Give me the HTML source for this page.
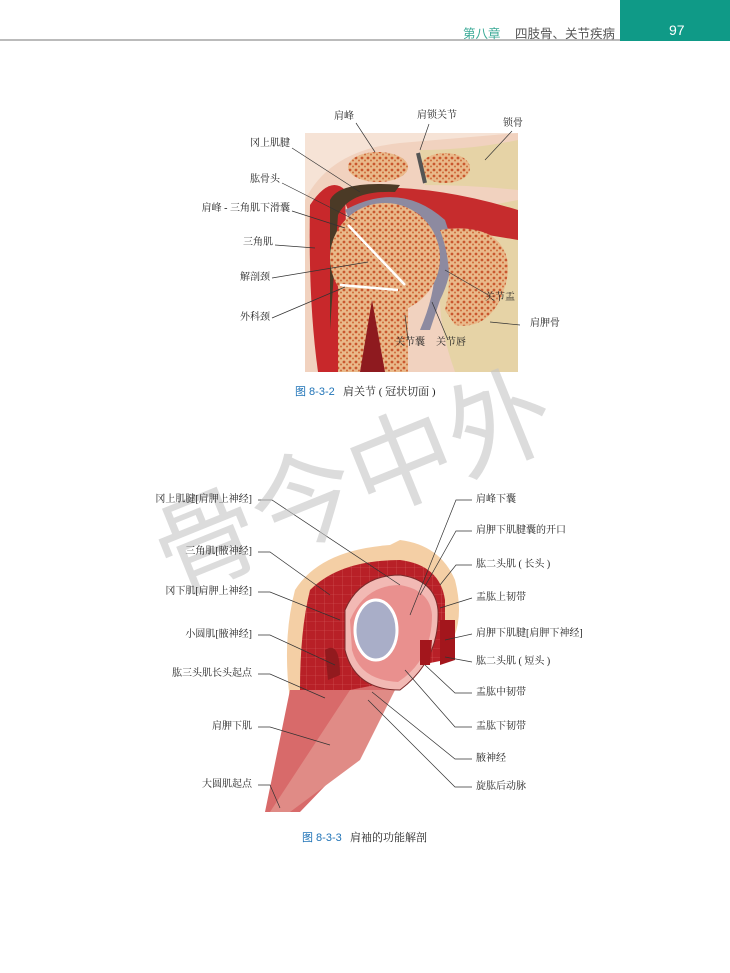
<!DOCTYPE html>
<html><head><meta charset="utf-8"><style>
body{margin:0;width:730px;height:973px;background:#fff;position:relative;overflow:hidden;font-family:"Liberation Serif","Noto Serif CJK SC",serif;}
.t{position:absolute;font-size:10px;color:#222;white-space:nowrap;line-height:12px}
.r{text-align:right}
</style></head><body>
<div style="position:absolute;left:0;top:39px;width:620px;height:2px;background:#bbb"></div>
<div style="position:absolute;left:620px;top:0;width:110px;height:41px;background:#0f9a87"></div>
<div style="position:absolute;left:669px;top:22px;color:#fff;font:14px 'Liberation Sans',sans-serif">97</div>
<div style="position:absolute;left:463px;top:23px;font:12.5px 'Liberation Sans','Noto Sans CJK SC',sans-serif;color:#3aa996">第八章</div>
<div style="position:absolute;left:515px;top:23px;font:12.5px 'Liberation Sans','Noto Sans CJK SC',sans-serif;color:#555">四肢骨、关节疾病</div>

<svg width="730" height="973" style="position:absolute;left:0;top:0">
<defs>
<pattern id="bone" width="6" height="6" patternUnits="userSpaceOnUse"><rect width="6" height="6" fill="#e9b98a"/><circle cx="2" cy="2" r="1.4" fill="#c9572e"/><circle cx="5" cy="4.5" r="1" fill="#d06a3a"/></pattern>
<pattern id="grid" width="9" height="9" patternUnits="userSpaceOnUse"><rect width="9" height="9" fill="#b82027"/><path d="M0 0H9M0 0V9" stroke="#d55a5a" stroke-width=".6"/></pattern>
</defs>
<rect x="305" y="133" width="213" height="239" fill="#f6e3d6"/>
<path d="M305 200 Q330 150 400 143 L518 133 L518 372 L305 372Z" fill="#f1d2bf"/>
<path d="M440 215 L518 200 L518 372 L455 372 Q440 330 440 300Z" fill="#e6d3a6"/>
<path d="M420 150 Q470 150 518 140 L518 190 Q470 185 425 185Z" fill="#e6d3a6"/>
<path d="M310 205 Q330 175 345 190 L350 372 L318 372 Q308 300 310 205Z" fill="#c8282b"/>
<path d="M340 190 Q420 180 518 210 L518 240 Q430 225 350 215Z" fill="#c62c2d"/>
<path d="M330 200 Q340 180 400 185 L395 192 Q350 190 338 215 L330 330Z" fill="#4b3a26"/>
<path d="M345 210 Q400 180 445 220 Q460 260 440 300 L430 330 L420 330 Q450 260 420 215 Q390 195 350 220Z" fill="#8d8aa0"/>
<circle cx="385" cy="258" r="55" fill="url(#bone)"/>
<rect x="338" y="258" width="70" height="114" fill="url(#bone)"/>
<path d="M360 372 L372 300 L385 372Z" fill="#8e1a1f"/>
<path d="M440 230 Q470 225 490 235 Q520 255 500 300 Q485 330 455 325 L445 310 Q455 270 440 230Z" fill="url(#bone)"/>
<ellipse cx="378" cy="167" rx="30" ry="15" fill="url(#bone)"/>
<ellipse cx="445" cy="168" rx="25" ry="15" fill="url(#bone)"/>
<path d="M418 153 L425 183" stroke="#555" stroke-width="4"/>
<path d="M348 225 L405 285 M340 285 L398 290" stroke="#fff" stroke-width="2.5"/>
<g stroke="#333" stroke-width=".7" fill="none">
<path d="M292 148 L360 192 M282 183 L355 220 M292 211 L345 228 M275 245 L315 248 M272 278 L368 262 M272 318 L345 287 M356 123 L375 152 M429 124 L420 150 M512 131 L485 160 M490 296 L445 270 M520 325 L490 322 M408 340 L405 315 M448 340 L432 302"/>
</g>
<path d="M295 590 Q320 550 390 545 L400 540 Q440 545 455 580 Q465 620 450 645 L440 652 L290 700 Q282 640 295 590Z" fill="#f4cfa5"/>
<path d="M310 590 Q340 560 400 560 Q440 565 445 600 L445 660 L420 665 L350 700 L300 690 Q300 630 310 590Z" fill="url(#grid)"/>
<path d="M290 690 L350 690 L400 680 L350 760 L300 812 L265 812Z" fill="#d86a6a"/>
<path d="M350 690 L395 690 L360 760 L290 812 L270 812Z" fill="#e08b86"/>
<path d="M345 610 Q360 575 400 575 Q435 580 438 610 Q440 660 400 690 Q355 690 345 650Z" fill="#f2b9b4" stroke="#7a2a2a" stroke-width="1"/>
<path d="M350 620 Q365 585 400 585 Q430 590 432 615 Q432 660 398 682 Q360 680 352 650Z" fill="#e9908e"/>
<ellipse cx="376" cy="630" rx="21" ry="30" fill="#a9aec8" stroke="#fff" stroke-width="3"/>
<path d="M420 640 L432 640 L430 665 L420 665Z" fill="#a3161c"/>
<path d="M440 620 L455 620 L455 660 L440 665Z" fill="#a3161c"/>
<path d="M325 650 Q340 640 340 675 L328 680Z" fill="#921a1e"/>
<g stroke="#333" stroke-width=".7" fill="none">
<path d="M258 500 L272 500 L400 585 M258 552 L270 552 L330 595 M258 592 L270 592 L340 620 M258 635 L270 635 L335 665 M258 674 L270 674 L325 698 M258 727 L270 727 L330 745 M258 785 L270 785 L280 808"/>
<path d="M472 500 L456 500 L410 615 M472 531 L456 531 L420 595 M472 565 L456 565 L440 585 M472 598 L440 608 M472 634 L445 640 M472 662 L445 657 M472 693 L455 693 L425 665 M472 727 L455 727 L405 670 M472 759 L455 759 L372 692 M472 787 L455 787 L368 700"/>
</g>
<text x="0" y="0" transform="translate(172,595) rotate(-22)" font-size="105" fill="#c4c4c4" fill-opacity=".6" font-family="Noto Sans CJK SC,sans-serif">骨今中外</text>
</svg>

<div class="t" style="left:334px;top:111px">肩峰</div>
<div class="t" style="left:417px;top:110px">肩锁关节</div>
<div class="t" style="left:503px;top:118px">锁骨</div>
<div class="t r" style="left:150px;width:140px;top:138px">冈上肌腱</div>
<div class="t r" style="left:150px;width:130px;top:174px">肱骨头</div>
<div class="t r" style="left:150px;width:140px;top:203px">肩峰 - 三角肌下滑囊</div>
<div class="t r" style="left:150px;width:123px;top:237px">三角肌</div>
<div class="t r" style="left:150px;width:120px;top:272px">解剖颈</div>
<div class="t r" style="left:150px;width:120px;top:312px">外科颈</div>
<div class="t" style="left:485px;top:292px">关节盂</div>
<div class="t" style="left:530px;top:318px">肩胛骨</div>
<div class="t" style="left:395px;top:337px">关节囊</div>
<div class="t" style="left:436px;top:337px">关节唇</div>
<div class="t" style="left:295px;top:386px;font-size:11px"><span style="color:#1f73b7;font-family:'Liberation Sans','Noto Sans CJK SC',sans-serif">图 8-3-2</span>&nbsp;&nbsp; 肩关节 ( 冠状切面 )</div>

<div class="t r" style="left:100px;width:152px;top:494px">冈上肌腱[肩胛上神经]</div>
<div class="t r" style="left:100px;width:152px;top:546px">三角肌[腋神经]</div>
<div class="t r" style="left:100px;width:152px;top:586px">冈下肌[肩胛上神经]</div>
<div class="t r" style="left:100px;width:152px;top:629px">小圆肌[腋神经]</div>
<div class="t r" style="left:100px;width:152px;top:668px">肱三头肌长头起点</div>
<div class="t r" style="left:100px;width:152px;top:721px">肩胛下肌</div>
<div class="t r" style="left:100px;width:152px;top:779px">大圆肌起点</div>
<div class="t" style="left:476px;top:494px">肩峰下囊</div>
<div class="t" style="left:476px;top:525px">肩胛下肌腱囊的开口</div>
<div class="t" style="left:476px;top:559px">肱二头肌 ( 长头 )</div>
<div class="t" style="left:476px;top:592px">盂肱上韧带</div>
<div class="t" style="left:476px;top:628px">肩胛下肌腱[肩胛下神经]</div>
<div class="t" style="left:476px;top:656px">肱二头肌 ( 短头 )</div>
<div class="t" style="left:476px;top:687px">盂肱中韧带</div>
<div class="t" style="left:476px;top:721px">盂肱下韧带</div>
<div class="t" style="left:476px;top:753px">腋神经</div>
<div class="t" style="left:476px;top:781px">旋肱后动脉</div>
<div class="t" style="left:302px;top:832px;font-size:11px"><span style="color:#1f73b7;font-family:'Liberation Sans','Noto Sans CJK SC',sans-serif">图 8-3-3</span>&nbsp;&nbsp; 肩袖的功能解剖</div>
</body></html>
